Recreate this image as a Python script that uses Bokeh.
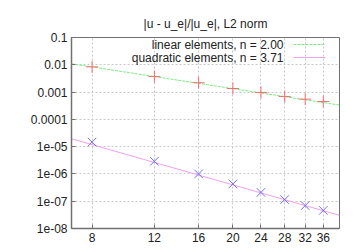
from bokeh.plotting import figure
from bokeh.models import Label, Arrow, FixedTicker, Range1d
from bokeh.embed import file_html
from bokeh.resources import INLINE

# data
n_vals = [8, 12, 16, 20, 24, 28, 32, 36]
err_linear = [0.0084, 0.0037, 0.0022, 0.00135, 0.00097, 0.00069, 0.00055, 0.00045]
err_quad = [1.47e-5, 2.9e-6, 1.0e-6, 4.3e-7, 2.1e-7, 1.15e-7, 6.9e-8, 4.6e-8]
fit_x = [7, 40]
fit_lin_C, fit_lin_n = 0.534, 2.00
fit_quad_C, fit_quad_n = 0.0266, 3.71
fit_lin_y = [fit_lin_C * x ** (-fit_lin_n) for x in fit_x]
fit_quad_y = [fit_quad_C * x ** (-fit_quad_n) for x in fit_x]
x_ticks = [8, 12, 16, 20, 24, 28, 32, 36]
y_ticks = [1e-8, 1e-7, 1e-6, 1e-5, 1e-4, 1e-3, 1e-2, 1e-1]
y_tick_labels = {1e-8: "1e-08", 1e-7: "1e-07", 1e-6: "1e-06", 1e-5: "1e-05",
                 1e-4: "0.0001", 1e-3: "0.001", 1e-2: "0.01", 1e-1: "0.1"}
title = "|u - u_e|/|u_e|, L2 norm"
legend_labels = ["linear elements, n = 2.00", "quadratic elements, n = 3.71"]

FONT = "Liberation Sans"
GRID = "#c8c8c8"
BORDER = "#707070"

p = figure(width=352, height=245, x_axis_type="log", y_axis_type="log",
           x_range=Range1d(7, 40), y_range=Range1d(1e-8, 0.1),
           output_backend="svg", toolbar_location=None,
           min_border_left=71, min_border_right=13, min_border_top=37, min_border_bottom=17)
p.background_fill_color = "white"
p.border_fill_color = "white"
p.outline_line_color = BORDER
p.outline_line_width = 1

p.title.text = title
p.title.align = "center"
p.title.text_font = FONT
p.title.text_font_size = "12px"
p.title.text_font_style = "normal"
p.title.text_color = "#222222"
p.title.standoff = 14

p.xaxis.ticker = FixedTicker(ticks=x_ticks, minor_ticks=[])
p.xaxis.major_label_overrides = {t: str(t) for t in x_ticks}
p.yaxis.ticker = FixedTicker(ticks=y_ticks, minor_ticks=[])
p.yaxis.major_label_overrides = y_tick_labels
for ax in p.axis:
    ax.major_tick_in = 4
    ax.major_tick_out = 0
    ax.minor_tick_in = 0
    ax.minor_tick_out = 0
    ax.axis_line_color = BORDER
    ax.axis_line_width = 1.5
    ax.major_tick_line_color = BORDER
    ax.major_label_text_font = FONT
    ax.major_label_text_font_size = "12px"
    ax.major_label_text_color = "#222222"
    ax.major_label_standoff = 4

for g in p.grid:
    g.grid_line_color = GRID
    g.grid_line_dash = "2 2"
    g.grid_line_width = 1
p.xgrid.ticker = FixedTicker(ticks=x_ticks)
p.ygrid.ticker = FixedTicker(ticks=y_ticks)

# fit lines
p.line(fit_x, fit_lin_y, line_color="#80e880", line_width=1, line_dash="3 1")
p.line(fit_x, fit_quad_y, line_color="#f0a0f0", line_width=1)

# markers
p.scatter(n_vals, err_linear, marker="cross", size=12, line_color="#f07070", line_width=1)
p.scatter(n_vals, err_quad, marker="x", size=12, line_color="#7070f0", line_width=1)

# legend (gnuplot style: text then sample)
rows_y = [184, 171]
colors = ["#80e880", "#f0a0f0"]
dashes = ["3 1", "solid"]
for lab, yy, c, d in zip(legend_labels, rows_y, colors, dashes):
    p.add_layout(Label(x=212, y=yy, x_units="screen", y_units="screen", text=lab,
                       text_align="right", text_baseline="middle", text_font=FONT,
                       text_font_size="12px", text_color="#222222"))
    p.add_layout(Arrow(x_start=222, y_start=yy, x_end=254, y_end=yy,
                       start_units="screen", end_units="screen", end=None,
                       line_color=c, line_width=1, line_dash=d))

open("out.html", "w").write(file_html(p, INLINE))
